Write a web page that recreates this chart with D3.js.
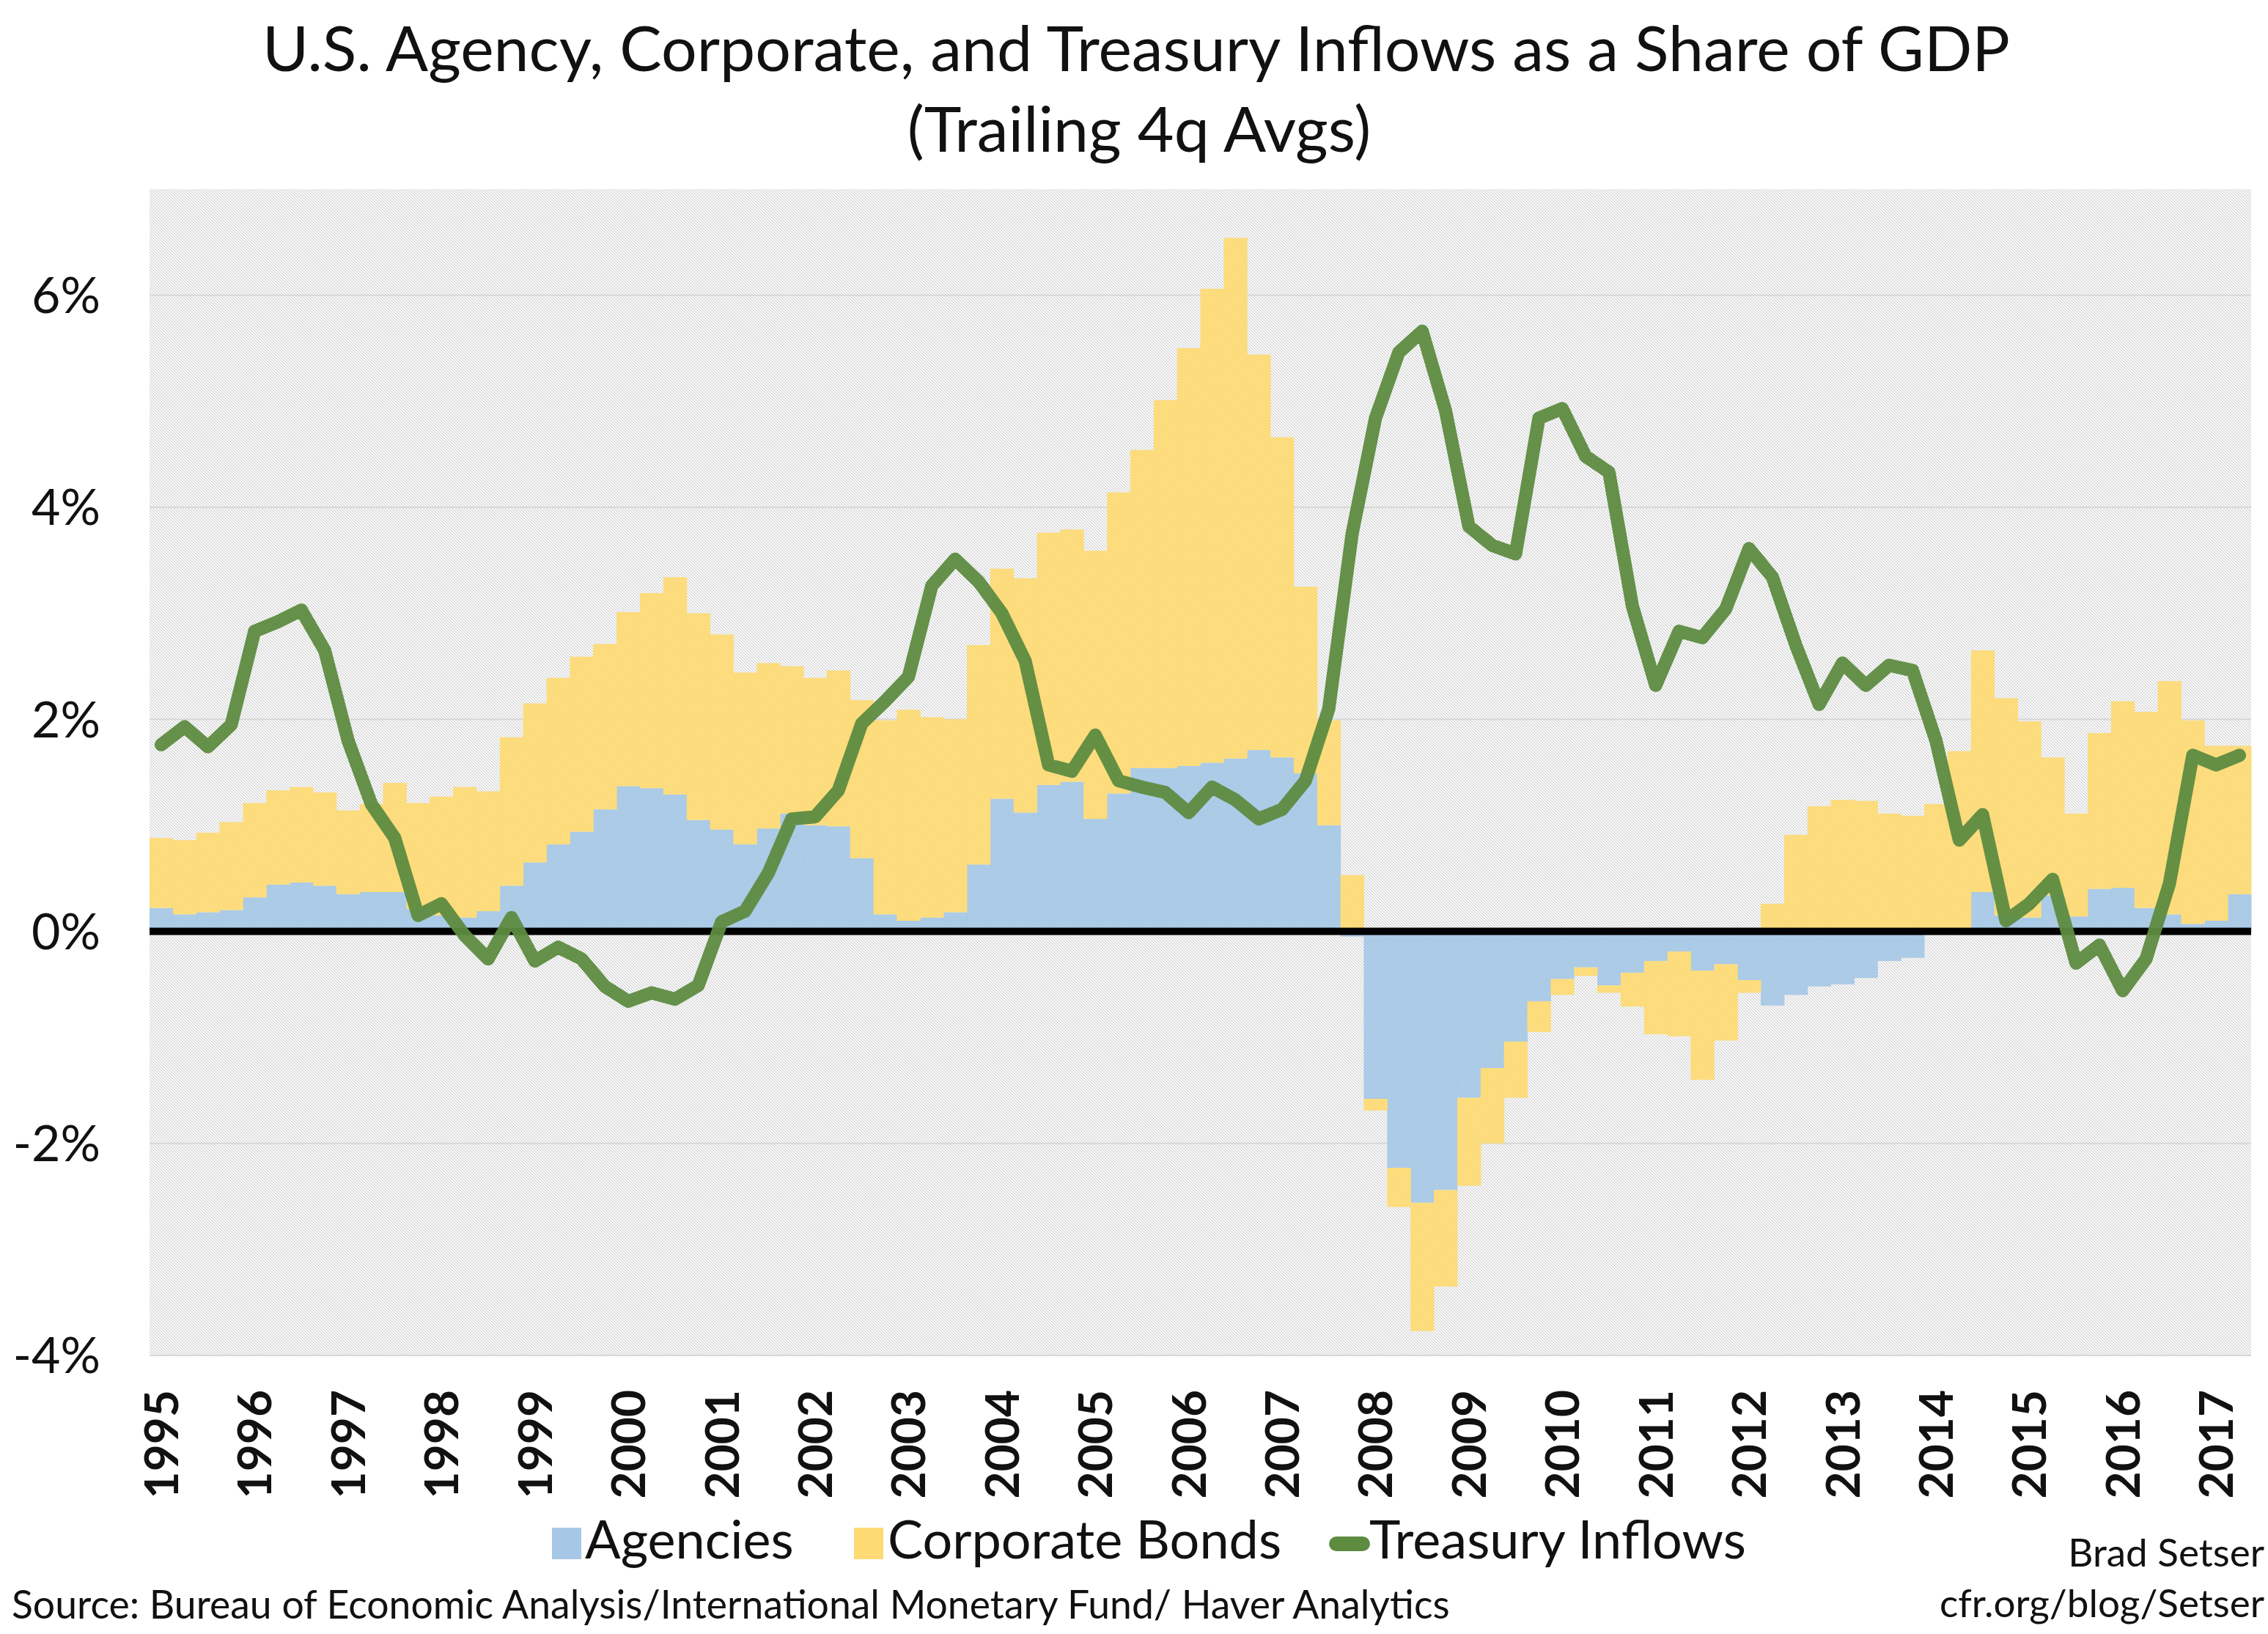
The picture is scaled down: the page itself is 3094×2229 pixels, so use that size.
<!DOCTYPE html>
<meta charset="utf-8">
<script src="https://d3js.org/d3.v7.min.js"></script>
<style>
  body { margin: 0; background: #fff; }
  text { font-family: Lato, "Open Sans", sans-serif; fill: #111; }
</style>
<div id="chart"></div>
<script>
// tick labels (one per year, shown on the first quarter)
const years = ["1995","1996","1997","1998","1999","2000","2001","2002","2003","2004","2005",
  "2006","2007","2008","2009","2010","2011","2012","2013","2014","2015","2016","2017"];
// 1995Q1 .. 2017Q2
const quarters = [];
years.forEach(y => ["Q1","Q2","Q3","Q4"].forEach(q => quarters.push(y + q)));
quarters.splice(90);

// % of GDP, trailing 4q averages
const agencies = [0.22,0.16,0.18,0.20,0.32,0.44,0.46,0.43,0.35,0.37,0.37,0.21,0.15,0.13,0.19,0.43,0.65,0.82,0.94,1.15,
  1.37,1.35,1.29,1.05,0.96,0.82,0.97,1.11,1.00,0.99,0.69,0.16,0.10,0.13,0.18,0.63,1.25,1.12,1.38,1.41,
  1.06,1.30,1.54,1.54,1.56,1.59,1.63,1.71,1.64,1.49,1.00,-0.05,-1.58,-2.23,-2.56,-2.44,-1.57,-1.29,-1.04,-0.66,
  -0.45,-0.34,-0.51,-0.39,-0.28,-0.19,-0.37,-0.31,-0.46,-0.70,-0.60,-0.52,-0.50,-0.44,-0.28,-0.25,-0.02,0.01,0.37,0.15,
  0.13,0.34,0.14,0.40,0.41,0.22,0.16,0.07,0.10,0.35];
const corporate = [0.66,0.70,0.75,0.83,0.89,0.89,0.90,0.88,0.79,0.83,1.03,1.00,1.12,1.23,1.13,1.40,1.50,1.57,1.65,1.56,
  1.64,1.84,2.05,1.95,1.84,1.62,1.56,1.39,1.39,1.47,1.49,1.83,1.99,1.89,1.82,2.07,2.17,2.21,2.38,2.38,
  2.53,2.84,3.00,3.47,3.94,4.47,4.91,3.73,3.02,1.76,0.99,0.53,-0.11,-0.37,-1.21,-0.91,-0.83,-0.71,-0.53,-0.29,
  -0.15,-0.08,-0.07,-0.32,-0.69,-0.80,-1.03,-0.72,-0.12,0.26,0.91,1.18,1.24,1.23,1.11,1.09,1.20,1.69,2.28,2.05,
  1.85,1.30,0.97,1.47,1.76,1.85,2.20,1.92,1.65,1.40];
const treasury = [1.76,1.93,1.74,1.95,2.83,2.92,3.03,2.65,1.80,1.20,0.88,0.15,0.26,-0.04,-0.26,0.13,-0.28,-0.15,-0.26,-0.52,
  -0.66,-0.58,-0.64,-0.51,0.09,0.19,0.55,1.06,1.08,1.33,1.96,2.17,2.40,3.26,3.51,3.30,3.00,2.55,1.57,1.51,
  1.85,1.42,1.36,1.31,1.12,1.36,1.24,1.06,1.15,1.42,2.10,3.75,4.84,5.46,5.66,4.91,3.82,3.64,3.56,4.84,
  4.93,4.48,4.33,3.07,2.32,2.83,2.77,3.04,3.61,3.34,2.70,2.14,2.53,2.32,2.51,2.46,1.80,0.86,1.10,0.10,
  0.26,0.49,-0.30,-0.13,-0.56,-0.26,0.45,1.66,1.57,1.66];
const yTicks = [-4,-2,0,2,4,6];

const W = 3094, H = 2229;
const svg = d3.select("#chart").append("svg")
  .attr("width", W).attr("height", H);

const x = d3.scaleBand().domain(quarters).range([204, 3071]).padding(0);
const y = d3.scaleLinear().domain([-4, 7]).range([1849, 258]);

// hatched plot background
const pat = svg.append("defs").append("pattern")
  .attr("id", "hatch").attr("patternUnits", "userSpaceOnUse")
  .attr("width", 4).attr("height", 4);
pat.append("rect").attr("width", 4).attr("height", 4).attr("fill", "#fff");
pat.append("path").attr("d", "M-1,-1 L5,5 M-1,3 L1,5 M3,-1 L5,1")
  .attr("stroke", "#cdcdcd").attr("stroke-width", 1.1);

svg.append("rect")
  .attr("x", x.range()[0]).attr("y", y(7))
  .attr("width", x.range()[1] - x.range()[0]).attr("height", y(-4) - y(7))
  .attr("fill", "url(#hatch)");

// gridlines
svg.append("g").selectAll("line")
  .data(yTicks.filter(d => d !== 0))
  .join("line")
    .attr("x1", x.range()[0]).attr("x2", x.range()[1])
    .attr("y1", d => y(d)).attr("y2", d => y(d))
    .attr("stroke", "#d8d8d8").attr("stroke-width", 2);

// stacked bars (positives up, negatives down)
const table = quarters.map((q, i) => ({q: q, agencies: agencies[i], corporate: corporate[i]}));
const series = d3.stack().keys(["agencies", "corporate"])
  .offset(d3.stackOffsetDiverging)(table);
const color = {agencies: "#a6c8e6", corporate: "#fdda74"};

svg.append("g").selectAll("g")
  .data(series)
  .join("g")
    .attr("fill", d => color[d.key])
    .attr("fill-opacity", 0.93)
  .selectAll("rect")
  .data(d => d)
  .join("rect")
    .attr("x", d => x(d.data.q))
    .attr("width", x.bandwidth() + 0.5)
    .attr("y", d => y(Math.max(d[0], d[1])))
    .attr("height", d => Math.abs(y(d[0]) - y(d[1])));

// zero line
svg.append("line")
  .attr("x1", x.range()[0]).attr("x2", x.range()[1])
  .attr("y1", y(0)).attr("y2", y(0))
  .attr("stroke", "#000").attr("stroke-width", 10);

// treasury line
const line = d3.line()
  .x((d, i) => x(quarters[i]) + x.bandwidth() / 2)
  .y(d => y(d));
svg.append("path")
  .datum(treasury)
  .attr("d", line)
  .attr("fill", "none")
  .attr("stroke", "#5d8b40")
  .attr("stroke-opacity", 0.95)
  .attr("stroke-width", 18)
  .attr("stroke-linejoin", "round")
  .attr("stroke-linecap", "round");

// y axis labels
svg.append("g").selectAll("text")
  .data(yTicks)
  .join("text")
    .attr("x", 137).attr("y", d => y(d))
    .attr("dy", "0.36em")
    .attr("text-anchor", "end")
    .style("font-size", "68px")
    .text(d => d + "%");

// x axis labels, rotated
svg.append("g").selectAll("text")
  .data(quarters.filter((q, i) => i % 4 === 0))
  .join("text")
    .attr("transform", d => `translate(${x(d) + x.bandwidth() / 2},1896) rotate(-90)`)
    .attr("dy", "0.36em")
    .attr("text-anchor", "end")
    .style("font-size", "64px")
    .style("font-weight", "bold")
    .text(d => d.slice(0, 4));

// title
svg.append("text")
  .attr("x", 1550).attr("y", 97)
  .attr("text-anchor", "middle")
  .style("font-size", "86px")
  .text("U.S. Agency, Corporate, and Treasury Inflows as a Share of GDP");
svg.append("text")
  .attr("x", 1554).attr("y", 207)
  .attr("text-anchor", "middle")
  .style("font-size", "86px")
  .text("(Trailing 4q Avgs)");

// legend
const legend = svg.append("g");
legend.append("rect").attr("x", 753).attr("y", 2084).attr("width", 40).attr("height", 43)
  .attr("fill", color.agencies);
legend.append("text").attr("x", 798).attr("y", 2126).style("font-size", "72px").text("Agencies");
legend.append("rect").attr("x", 1165).attr("y", 2084).attr("width", 40).attr("height", 43)
  .attr("fill", color.corporate);
legend.append("text").attr("x", 1211).attr("y", 2126).style("font-size", "72px").text("Corporate Bonds");
legend.append("line").attr("x1", 1823).attr("x2", 1859).attr("y1", 2106).attr("y2", 2106)
  .attr("stroke", "#5d8b40").attr("stroke-width", 20).attr("stroke-linecap", "round");
legend.append("text").attr("x", 1868).attr("y", 2126).style("font-size", "72px").text("Treasury Inflows");

// credits
svg.append("text").attr("x", 3089).attr("y", 2137).attr("text-anchor", "end")
  .style("font-size", "53px").text("Brad Setser");
svg.append("text").attr("x", 3089).attr("y", 2206).attr("text-anchor", "end")
  .style("font-size", "53px").text("cfr.org/blog/Setser");
svg.append("text").attr("x", 16).attr("y", 2208)
  .style("font-size", "53.5px")
  .text("Source: Bureau of Economic Analysis/International Monetary Fund/ Haver Analytics");
</script>
